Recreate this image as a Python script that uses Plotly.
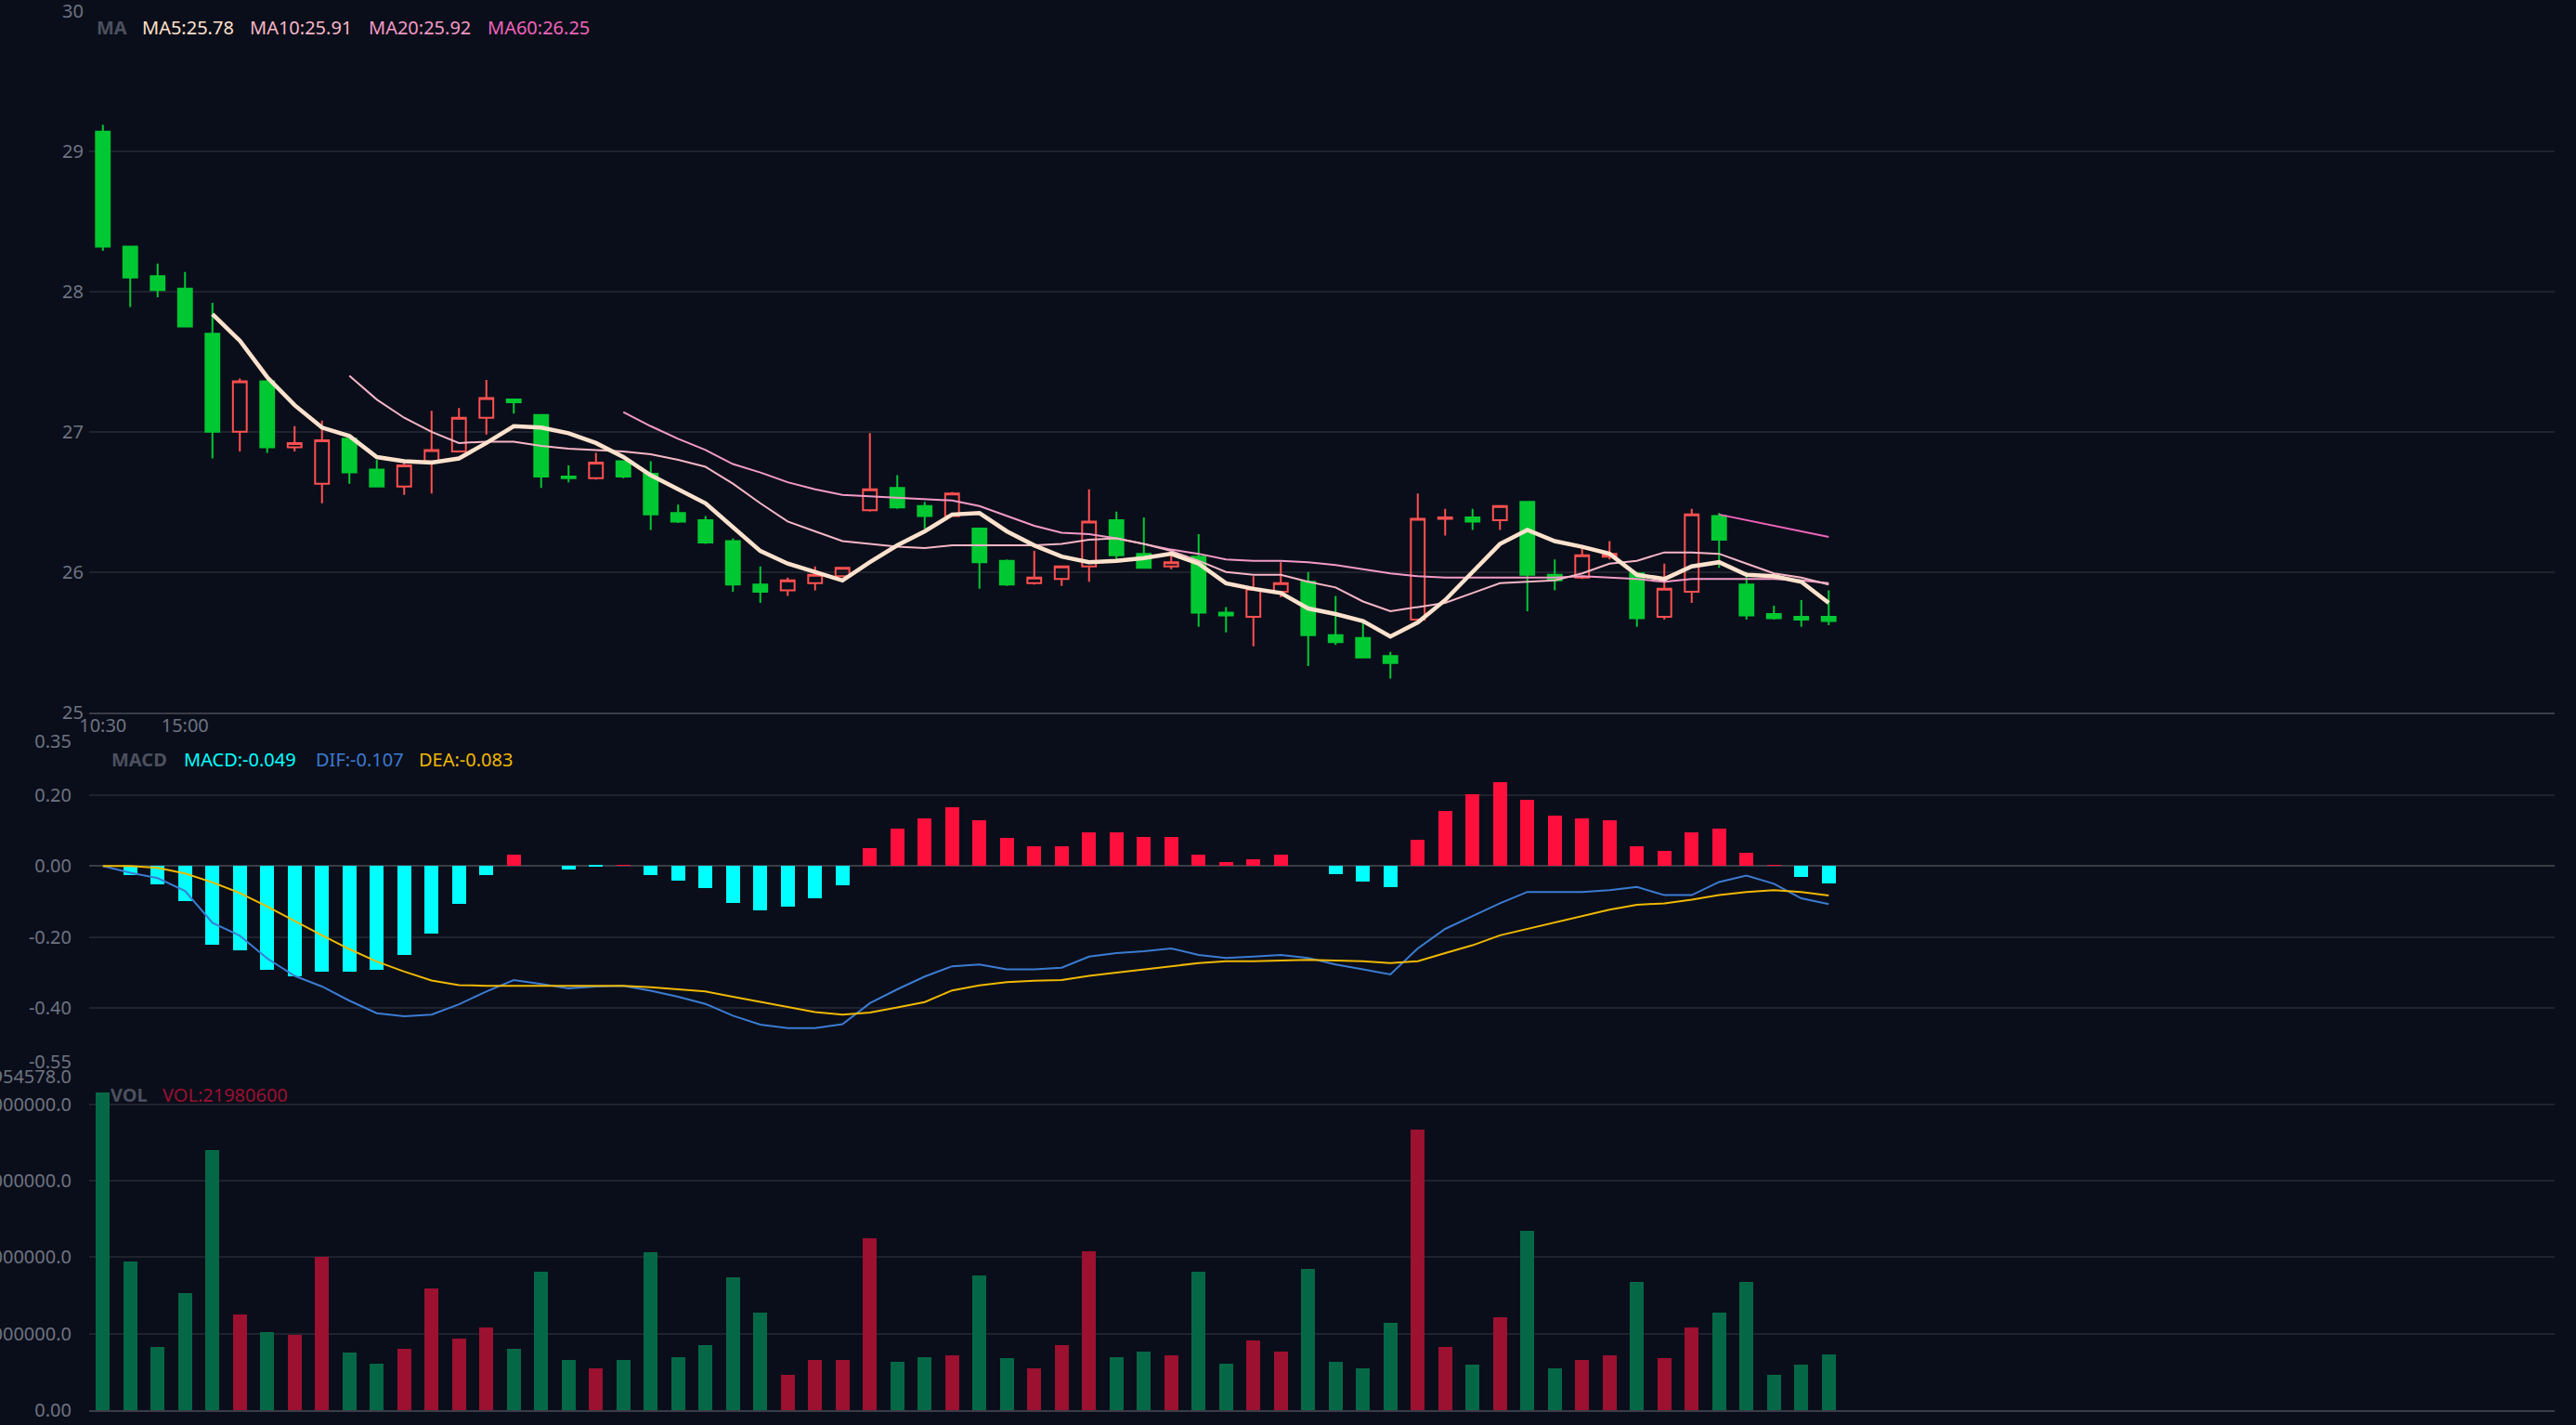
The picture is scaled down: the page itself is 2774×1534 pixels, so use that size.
import plotly.graph_objects as go

# ---------------- data ----------------
opens = [29.14, 28.32, 28.11, 28.02, 27.70, 27.00, 27.36, 26.89, 26.63, 26.95,
         26.73, 26.61, 26.79, 26.86, 27.10, 27.23, 27.12, 26.68, 26.67, 26.79,
         26.70, 26.42, 26.37, 26.22, 25.91, 25.87, 25.92, 25.97, 26.44, 26.60,
         26.47, 26.40, 26.31, 26.08, 25.92, 25.95, 26.04, 26.37, 26.13, 26.04,
         26.11, 25.71, 25.68, 25.86, 25.93, 25.55, 25.53, 25.40, 25.66, 26.38,
         26.39, 26.37, 26.50, 25.98, 25.96, 26.11, 25.99, 25.68, 25.86, 26.40,
         25.91, 25.70, 25.68, 25.68]
highs = [29.19, 28.32, 28.20, 28.14, 27.92, 27.38, 27.37, 27.04, 27.08, 26.96,
         26.80, 26.80, 27.15, 27.17, 27.37, 27.23, 27.12, 26.76, 26.85, 26.79,
         26.79, 26.48, 26.40, 26.24, 26.04, 25.96, 26.04, 26.03, 26.99, 26.69,
         26.50, 26.57, 26.31, 26.09, 26.15, 26.04, 26.59, 26.43, 26.39, 26.14,
         26.27, 25.75, 25.97, 26.07, 26.00, 25.83, 25.65, 25.43, 26.56, 26.45,
         26.45, 26.47, 26.50, 26.09, 26.18, 26.22, 26.00, 26.06, 26.45, 26.42,
         26.00, 25.76, 25.80, 25.87]
lows = [28.29, 27.89, 27.96, 27.75, 26.81, 26.86, 26.85, 26.86, 26.49, 26.63,
        26.61, 26.55, 26.56, 26.86, 26.98, 27.13, 26.60, 26.64, 26.66, 26.67,
        26.30, 26.35, 26.20, 25.86, 25.78, 25.83, 25.87, 25.97, 26.43, 26.45,
        26.31, 26.40, 25.88, 25.90, 25.91, 25.90, 25.93, 26.08, 26.03, 26.02,
        25.61, 25.57, 25.47, 25.82, 25.33, 25.48, 25.39, 25.24, 25.66, 26.26,
        26.30, 26.30, 25.72, 25.87, 25.95, 26.09, 25.61, 25.66, 25.78, 26.03,
        25.66, 25.66, 25.61, 25.62]
closes = [28.32, 28.10, 28.01, 27.75, 27.00, 27.36, 26.89, 26.92, 26.94, 26.71,
          26.61, 26.76, 26.87, 27.10, 27.24, 27.21, 26.68, 26.67, 26.78, 26.68,
          26.41, 26.36, 26.21, 25.91, 25.86, 25.94, 25.98, 26.03, 26.59, 26.46,
          26.40, 26.56, 26.07, 25.91, 25.96, 26.04, 26.36, 26.12, 26.03, 26.07,
          25.71, 25.69, 25.88, 25.92, 25.55, 25.50, 25.39, 25.35, 26.38, 26.39,
          26.36, 26.47, 25.98, 25.94, 26.12, 26.13, 25.67, 25.88, 26.41, 26.23,
          25.69, 25.67, 25.66, 25.65]

ma5 = [27.84, 27.65, 27.39, 27.19, 27.03, 26.97, 26.82, 26.79, 26.78, 26.81,
       26.92, 27.04, 27.03, 26.99, 26.92, 26.82, 26.69, 26.59, 26.49, 26.32,
       26.15, 26.06, 26.00, 25.94, 26.07, 26.19, 26.29, 26.41, 26.42, 26.29,
       26.19, 26.11, 26.07, 26.08, 26.10, 26.13, 26.06, 25.92, 25.88, 25.85,
       25.74, 25.70, 25.65, 25.54, 25.64, 25.80, 26.00, 26.20, 26.30, 26.22,
       26.18, 26.13, 25.98, 25.95, 26.04, 26.07, 25.98, 25.97, 25.93, 25.78]
ma10 = [27.40, 27.23, 27.10, 27.00, 26.92, 26.93, 26.93, 26.90, 26.88, 26.87,
        26.86, 26.84, 26.80, 26.75, 26.63, 26.49, 26.36, 26.29, 26.22, 26.20,
        26.18, 26.17, 26.19, 26.19, 26.19, 26.19, 26.20, 26.23, 26.24, 26.20,
        26.15, 26.08, 26.00, 25.98, 25.98, 25.93, 25.89, 25.79, 25.72, 25.75,
        25.78, 25.85, 25.92, 25.93, 25.94, 25.99, 26.06, 26.08, 26.14, 26.14,
        26.13, 26.06, 25.99, 25.96, 25.91]
ma20 = [27.14, 27.04, 26.95, 26.87, 26.77, 26.71, 26.64, 26.59, 26.55, 26.54,
        26.53, 26.52, 26.51, 26.47, 26.40, 26.33, 26.28, 26.27, 26.24, 26.20,
        26.16, 26.13, 26.09, 26.08, 26.08, 26.07, 26.05, 26.02, 25.99, 25.97,
        25.96, 25.96, 25.96, 25.96, 25.96, 25.97, 25.96, 25.95, 25.93, 25.95,
        25.95, 25.95, 25.95, 25.94, 25.92]
ma60 = [26.41, 26.37, 26.33, 26.29, 26.25]

macd_hist = [0.000, -0.025, -0.053, -0.100, -0.221, -0.239, -0.294, -0.310, -0.297, -0.298,
             -0.293, -0.250, -0.191, -0.108, -0.026, 0.030, 0.000, -0.011, -0.002, 0.002,
             -0.026, -0.042, -0.063, -0.105, -0.125, -0.116, -0.091, -0.056, 0.049, 0.104,
             0.132, 0.164, 0.127, 0.077, 0.055, 0.055, 0.095, 0.095, 0.082, 0.082,
             0.032, 0.009, 0.018, 0.032, 0.000, -0.023, -0.045, -0.059, 0.073, 0.155,
             0.200, 0.236, 0.186, 0.141, 0.132, 0.127, 0.055, 0.041, 0.095, 0.105,
             0.036, 0.002, -0.032, -0.049]
dif = [0.000, -0.019, -0.034, -0.070, -0.160, -0.196, -0.260, -0.309, -0.339, -0.379,
       -0.414, -0.423, -0.418, -0.389, -0.353, -0.321, -0.332, -0.344, -0.339, -0.337,
       -0.351, -0.368, -0.388, -0.421, -0.446, -0.456, -0.456, -0.445, -0.386, -0.347,
       -0.311, -0.282, -0.277, -0.291, -0.291, -0.286, -0.255, -0.245, -0.240, -0.232,
       -0.250, -0.259, -0.255, -0.250, -0.259, -0.277, -0.291, -0.305, -0.232, -0.177,
       -0.141, -0.105, -0.073, -0.073, -0.073, -0.068, -0.059, -0.082, -0.082, -0.045,
       -0.027, -0.050, -0.091, -0.107]
dea = [0.000, 0.000, -0.005, -0.021, -0.046, -0.076, -0.114, -0.155, -0.195, -0.234,
       -0.269, -0.297, -0.322, -0.335, -0.337, -0.337, -0.337, -0.337, -0.337, -0.337,
       -0.341, -0.346, -0.353, -0.368, -0.383, -0.398, -0.411, -0.418, -0.412, -0.398,
       -0.383, -0.350, -0.336, -0.327, -0.323, -0.321, -0.309, -0.300, -0.291, -0.282,
       -0.273, -0.268, -0.268, -0.266, -0.264, -0.266, -0.268, -0.273, -0.268, -0.245,
       -0.223, -0.195, -0.177, -0.159, -0.141, -0.123, -0.109, -0.105, -0.095, -0.082,
       -0.073, -0.068, -0.073, -0.083]

volume = [124.9e6, 58.3e6, 24.8e6, 46.0e6, 102.1e6, 37.8e6, 30.6e6, 29.6e6, 60.3e6, 22.6e6,
          18.5e6, 24.2e6, 47.9e6, 28.1e6, 32.6e6, 24.2e6, 54.3e6, 19.8e6, 16.6e6, 19.8e6,
          62.0e6, 21.0e6, 25.5e6, 52.4e6, 38.3e6, 14.0e6, 19.8e6, 19.8e6, 67.7e6, 19.2e6,
          21.0e6, 21.7e6, 53.0e6, 20.4e6, 16.6e6, 25.5e6, 62.6e6, 21.0e6, 23.0e6, 21.7e6,
          54.3e6, 18.5e6, 27.4e6, 23.0e6, 55.6e6, 19.2e6, 16.6e6, 34.5e6, 110.0e6, 24.9e6,
          17.8e6, 36.4e6, 70.3e6, 16.6e6, 19.8e6, 21.7e6, 50.5e6, 20.4e6, 32.6e6, 38.3e6,
          50.5e6, 14.0e6, 17.8e6, 21980600]

price_ticks = [25, 26, 27, 28, 29, 30]
macd_ticks = [0.35, 0.20, 0.00, -0.20, -0.40, -0.55]
macd_ticktext = ["0.35", "0.20", "0.00", "-0.20", "-0.40", "-0.55"]
vol_max = 130954578
vol_ticks = [0, 30000000, 60000000, 90000000, 120000000, vol_max]
vol_ticktext = ["0.00", "30000000.0", "60000000.0", "90000000.0", "120000000.0", "130954578.0"]
time_ticks = [0, 3]
time_labels = ["10:30", "15:00"]

# ---------------- style ----------------
BG = "#0a0e1a"
GRID = "#20222d"
AXIS = "#3a3c47"
TICK = "#6e7382"
UP = "#ff5050"
DOWN = "#00c832"
VOL_UP = "#9c1030"
VOL_DOWN = "#046846"
MACD_UP = "#ff0f3c"
MACD_DN = "#00ffff"
C_MA5 = "#ffe2cd"
C_MA10 = "#f6b6c6"
C_MA20 = "#f39ac6"
C_MA60 = "#f064bc"
C_DIF = "#3b7bd2"
C_DEA = "#f0b800"
FONT = "Noto Sans"

n = len(closes)
idx = list(range(n))
XR = [-0.5, 89.5]

fig = go.Figure()

# MA lines (drawn first so candles sit on top)
fig.add_trace(go.Scatter(x=list(range(59, 59 + len(ma60))), y=ma60, mode="lines",
                         line=dict(color=C_MA60, width=2), hoverinfo="skip"))
fig.add_trace(go.Scatter(x=list(range(19, 19 + len(ma20))), y=ma20, mode="lines",
                         line=dict(color=C_MA20, width=2), hoverinfo="skip"))
fig.add_trace(go.Scatter(x=list(range(9, 9 + len(ma10))), y=ma10, mode="lines",
                         line=dict(color=C_MA10, width=2), hoverinfo="skip"))
fig.add_trace(go.Scatter(x=list(range(4, 4 + len(ma5))), y=ma5, mode="lines",
                         line=dict(color=C_MA5, width=4.5), hoverinfo="skip"))

fig.add_trace(go.Candlestick(
    x=idx, open=opens, high=highs, low=lows, close=closes,
    increasing=dict(line=dict(color=UP, width=2), fillcolor="rgba(0,0,0,0)"),
    decreasing=dict(line=dict(color=DOWN, width=2), fillcolor=DOWN),
    whiskerwidth=0, hoverinfo="skip"))

# MACD
fig.add_trace(go.Bar(x=idx, y=macd_hist, width=0.52,
                     marker=dict(color=[MACD_UP if v >= 0 else MACD_DN for v in macd_hist], line=dict(width=0)),
                     xaxis="x2", yaxis="y2", hoverinfo="skip"))
fig.add_trace(go.Scatter(x=idx, y=dif, mode="lines", line=dict(color=C_DIF, width=2),
                         xaxis="x2", yaxis="y2", hoverinfo="skip"))
fig.add_trace(go.Scatter(x=idx, y=dea, mode="lines", line=dict(color=C_DEA, width=2),
                         xaxis="x2", yaxis="y2", hoverinfo="skip"))

# Volume
vol_colors = [VOL_UP if c >= o else VOL_DOWN for o, c in zip(opens, closes)]
fig.add_trace(go.Bar(x=idx, y=volume, width=0.5,
                     marker=dict(color=vol_colors, line=dict(width=0)),
                     xaxis="x3", yaxis="y3", hoverinfo="skip"))

W, H = 2774, 1534
ML, MR, MT, MB = 96, 23, 12, 16
PW, PH = W - ML - MR, H - MT - MB


def px(x):
    return (x - ML) / PW


def py(y):
    return (H - MB - y) / PH


def label(text, x, y, color, bold=False):
    fig.add_annotation(text=("<b>%s</b>" % text) if bold else text, x=px(x), y=py(y),
                       xref="paper", yref="paper", xanchor="left", yanchor="middle",
                       showarrow=False, font=dict(family=FONT, size=20, color=color),
                       borderpad=0)


label("MA", 103, 30, "#4c505e", bold=True)
label("MA5:25.78", 152, 30, C_MA5)
label("MA10:25.91", 268, 30, C_MA10)
label("MA20:25.92", 396, 30, C_MA20)
label("MA60:26.25", 524, 30, C_MA60)

label("MACD", 119, 817, "#4c505e", bold=True)
label("MACD:-0.049", 197, 817, MACD_DN)
label("DIF:-0.107", 339, 817, C_DIF)
label("DEA:-0.083", 450, 817, C_DEA)

label("VOL", 118, 1178, "#4c505e", bold=True)
label("VOL:21980600", 174, 1178, VOL_UP)

common_x = dict(range=XR, showgrid=False, zeroline=False, fixedrange=True)

fig.update_layout(
    width=W, height=H,
    paper_bgcolor=BG, plot_bgcolor=BG,
    margin=dict(l=ML, r=MR, t=MT, b=MB),
    showlegend=False, boxgap=0.28, bargap=0,
    font=dict(family=FONT, size=20, color=TICK),
    xaxis=dict(domain=[0, 1], anchor="y", tickvals=time_ticks, ticktext=time_labels,
               showline=True, linecolor=AXIS, linewidth=2, ticks="", automargin=False,
               ticklabelstandoff=-5,
               rangeslider=dict(visible=False), tickfont=dict(size=20, color=TICK), **common_x),
    yaxis=dict(domain=[py(766.7), 1], range=[25, 30], tickvals=price_ticks,
               gridcolor=GRID, gridwidth=2, zeroline=False, showline=False,
               ticks="outside", ticklen=1, tickcolor="rgba(0,0,0,0)", automargin=False,
               ticklabeloverflow="allow", tickfont=dict(size=20, color=TICK)),
    xaxis2=dict(domain=[0, 1], anchor="y2", showticklabels=False, showline=False, **common_x),
    yaxis2=dict(domain=[py(1142.7), py(798.3)], range=[-0.55, 0.35], tickvals=macd_ticks,
                ticktext=macd_ticktext, gridcolor=GRID, gridwidth=2, zeroline=True,
                zerolinecolor=AXIS, zerolinewidth=2, showline=False,
                ticks="outside", ticklen=14, tickcolor="rgba(0,0,0,0)", automargin=False,
                ticklabeloverflow="allow", tickfont=dict(size=20, color=TICK)),
    xaxis3=dict(domain=[0, 1], anchor="y3", showticklabels=False, showline=True,
                linecolor=AXIS, linewidth=2, **common_x),
    yaxis3=dict(domain=[0, py(1158.7)], range=[0, vol_max], tickvals=vol_ticks,
                ticktext=vol_ticktext, gridcolor=GRID, gridwidth=2, zeroline=False, showline=False,
                ticks="outside", ticklen=14, tickcolor="rgba(0,0,0,0)", automargin=False,
                ticklabeloverflow="allow", tickfont=dict(size=20, color=TICK)),
)

fig.write_html("out.html")
